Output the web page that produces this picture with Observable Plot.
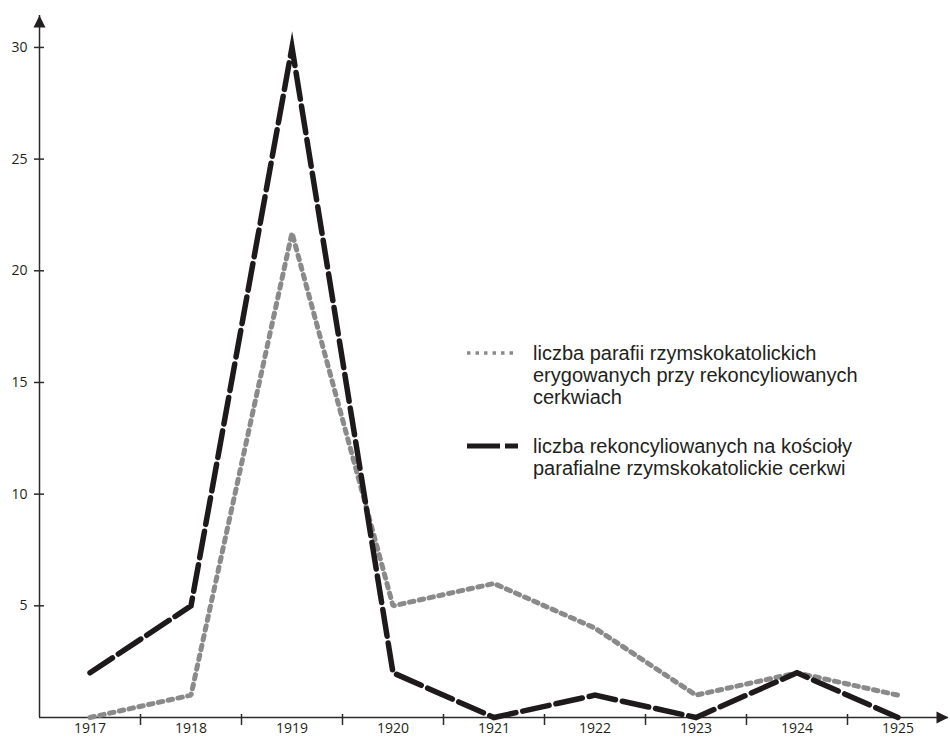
<!DOCTYPE html>
<html>
<head>
<meta charset="utf-8">
<script src="https://cdn.jsdelivr.net/npm/d3@7"></script>
<script src="https://cdn.jsdelivr.net/npm/@observablehq/plot@0.6"></script>
<style>
  html, body { margin: 0; padding: 0; background: #fff; }
  #wrap { position: relative; width: 950px; height: 740px; }
  #legend { position: absolute; left: 0; top: 0; font-family: "Liberation Sans", Arial, sans-serif; font-size: 20px; line-height: 22px; color: #231f20; }
  .item { position: absolute; left: 467px; width: 420px; }
  .item svg { position: absolute; left: 0; }
  .item .txt { position: absolute; left: 66px; white-space: nowrap; }
</style>
</head>
<body>
<div id="wrap"><div id="legend"></div></div>
<script>
// ---- data ----
const years = [1917, 1918, 1919, 1920, 1921, 1922, 1923, 1924, 1925];
const parafie = [0, 1, 21.7, 5, 6, 4, 1, 2, 1];        // gray dotted
const cerkwie = [2, 5, 30, 2, 0, 1, 0, 2, 0];          // black dashed
const yTicks = [5, 10, 15, 20, 25, 30];
const seriesNames = [
  ["liczba parafii rzymskokatolickich", "erygowanych przy rekoncyliowanych", "cerkwiach"],
  ["liczba rekoncyliowanych na kościoły", "parafialne rzymskokatolickie cerkwi"]
];

const xDomain = [years[0] - 0.5, years[years.length - 1] + 0.5];
const yMax = 31.43;
const xTicks = years.slice(0, -1).map(y => y + 0.5);

const rows1 = years.map((y, i) => ({year: y, value: parafie[i]}));
const rows2 = years.map((y, i) => ({year: y, value: cerkwie[i]}));

const arrowHead = {
  draw(context) {
    context.moveTo(0, 0);
    context.lineTo(-6, 12);
    context.lineTo(6, 12);
    context.closePath();
  }
};

const axisColor = "#2b2b2b";

const chart = Plot.plot({
  width: 950,
  height: 740,
  marginLeft: 39,
  marginRight: 2,
  marginTop: 15,
  marginBottom: 23,
  x: {domain: xDomain},
  y: {domain: [0, yMax]},
  style: {fontFamily: "'Open Sans', sans-serif", fontSize: "14px", color: "#231f20", background: "white"},
  marks: [
    Plot.axisX({ticks: years, tickSize: 0, tickPadding: 6, tickFormat: d => String(d), label: null, fontSize: 14}),
    Plot.axisY({ticks: yTicks, tickSize: 0, tickPadding: 12, label: null, fontSize: 14}),
    Plot.ruleX([xDomain[0]], {stroke: axisColor, strokeWidth: 1.5}),
    Plot.ruleY([0], {stroke: axisColor, strokeWidth: 1.5}),
    Plot.ruleY(yTicks, {y: d => d, x1: xDomain[0], x2: xDomain[0], insetLeft: -5, insetRight: -5, stroke: axisColor, strokeWidth: 1.5}),
    Plot.ruleX(xTicks, {x: d => d, y1: 0, y2: 0, insetTop: -3, insetBottom: -8, stroke: axisColor, strokeWidth: 1.5}),
    Plot.dot([{x: xDomain[0], y: yMax}], {x: "x", y: "y", symbol: arrowHead, fill: "#231f20", stroke: "none", r: 1}),
    Plot.dot([{x: xDomain[1], y: 0}], {x: "x", y: "y", symbol: arrowHead, rotate: 90, fill: "#231f20", stroke: "none", r: 1}),
    Plot.line(rows1, {x: "year", y: "value", stroke: "#8a8a8a", strokeWidth: 5, strokeDasharray: "4.5,5.5", strokeLinejoin: "miter", curve: "linear"}),
    Plot.line(rows2, {x: "year", y: "value", stroke: "#1e1a1b", strokeWidth: 5.5, strokeDasharray: "27,7", strokeLinejoin: "miter", strokeMiterlimit: 10, curve: "linear"})
  ]
});

document.getElementById("wrap").prepend(chart);

// ---- legend ----
const legend = document.getElementById("legend");
const items = [
  {top: 342, names: seriesNames[0], sample: `<line x1="0" y1="11" x2="51" y2="11" stroke="#8a8a8a" stroke-width="3.5" stroke-dasharray="3.5,5"/>`},
  {top: 435, names: seriesNames[1], sample: `<line x1="0" y1="11" x2="51" y2="11" stroke="#1e1a1b" stroke-width="5" stroke-dasharray="33,5"/>`}
];
for (const it of items) {
  const div = document.createElement("div");
  div.className = "item";
  div.style.top = it.top + "px";
  div.innerHTML = `<svg width="52" height="22">${it.sample}</svg><div class="txt">${it.names.join("<br>")}</div>`;
  legend.appendChild(div);
}
</script>
</body>
</html>
